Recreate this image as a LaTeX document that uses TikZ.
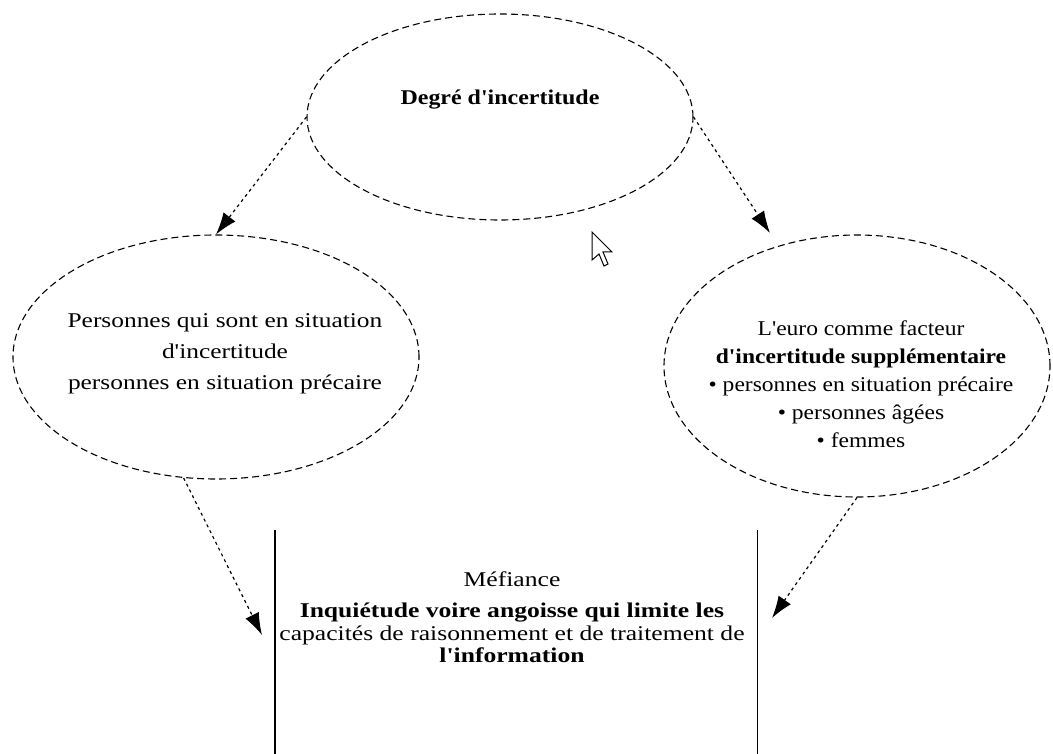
\documentclass[tikz,border=0pt]{standalone}
\usepackage{fontspec}
\setmainfont{Liberation Serif}
\newfontfamily\wideA[FakeStretch=1.14]{Liberation Serif}
\newfontfamily\wideB[FakeStretch=1.21]{Liberation Serif}
\newfontfamily\wideC[FakeStretch=1.12]{Liberation Serif}
\newfontfamily\wideD[FakeStretch=1.22]{Liberation Serif}
\usetikzlibrary{shapes.geometric,arrows.meta,calc}
\begin{document}
\begin{tikzpicture}[x=1pt,y=-1pt,
  bubble/.style={draw,ellipse,dash pattern=on 7pt off 4pt,line width=1.1pt,inner sep=0pt},
  txt/.style={align=center},
  link/.style={dash pattern=on 3pt off 3.5pt,line width=1.2pt,
    -{Latex[length=22pt,width=15pt,fill=black]}},
  wall/.style={line width=1.4pt}]
\useasboundingbox (0,0) rectangle (1053,754);

% the three ellipses
\node[bubble,minimum width=386pt,minimum height=206pt] (top) at (500,117) {};
\node[bubble,minimum width=406pt,minimum height=244pt] (left) at (216,357) {};
\node[bubble,minimum width=386pt,minimum height=262pt] (right) at (857,366) {};

% their texts
\node[txt,font=\wideA\fontsize{21}{29}\selectfont] (ttop) at (500,100) {\textbf{Degré d'incertitude}};
\node[txt,font=\wideB\fontsize{21}{31}\selectfont] (tleft) at (225,354) {Personnes qui sont en situation\\ d'incertitude\\ personnes en situation précaire};
\node[txt,font=\wideC\fontsize{21}{28}\selectfont] (tright) at (861,384) {L'euro comme facteur\\ \textbf{d'incertitude supplémentaire}\\ • personnes en situation précaire\\ • personnes âgées\\ • femmes};

% open box at the bottom
\node[minimum width=482pt,minimum height=240pt,inner sep=0pt] (box) at (516,650) {};
\draw[wall] (box.north west) -- (box.south west);
\draw[wall] (box.north east) -- (box.south east);
\node[txt,font=\wideD\fontsize{21}{22.5}\selectfont] (tbox) at (512,617) {Méfiance\\[9pt]
  \textbf{Inquiétude voire angoisse qui limite les}\\
  capacités de raisonnement et de traitement de\\
  \textbf{l'information}};

% arrow tips
\coordinate (rtip) at (770,233);
\coordinate (bl) at (262,635);
\coordinate (br) at (772,618);

% connectors
\draw[link] (top.west) -- (left.north);
\draw[link] (top.east) -- (rtip);
\draw[link] (left.255) -- (bl);
\draw[link] (right.south) -- (br);

% pointer
\draw[line width=1pt,fill=white] (592,232) -- (592,260) -- (599,254) -- (604,266)
  -- (608,264) -- (603,252) -- (612,252) -- cycle;
\end{tikzpicture}
\end{document}
